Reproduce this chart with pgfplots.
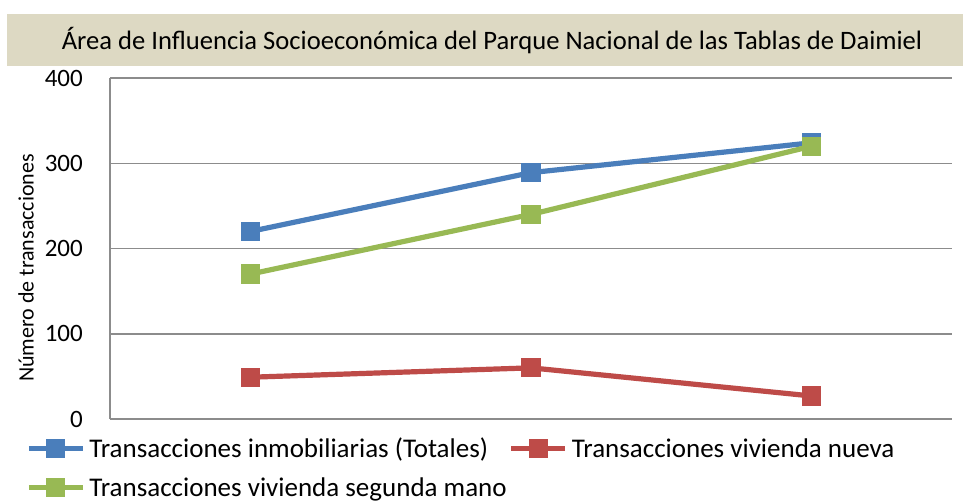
\documentclass[border=0pt]{standalone}
\usepackage{fontspec}
\setmainfont{Carlito}
\usepackage{pgfplots}
\pgfplotsset{compat=1.18}
\definecolor{cblue}{HTML}{4A7EBB}
\definecolor{cred}{HTML}{BE4B48}
\definecolor{cgreen}{HTML}{98B954}
\definecolor{titlebg}{HTML}{DDD9C3}
\definecolor{gridc}{HTML}{8C8C8C}
\begin{document}
\begin{tikzpicture}
\path[use as bounding box] (-110bp,-83bp) rectangle (853bp,419bp);
\fill[titlebg] (-103bp,353bp) rectangle (853bp,405bp);
\node[font=\fontsize{26.6bp}{30bp}\selectfont, inner sep=0pt] at (382bp,378bp) {Área de Influencia Socioeconómica del Parque Nacional de las Tablas de Daimiel};
\begin{axis}[at={(0,0)}, anchor=south west, scale only axis, width=842bp, height=341bp,
  xmin=-0.5, xmax=2.5, ymin=0, ymax=400, ytick={0,100,200,300,400}, xtick=\empty,
  axis lines*=left, axis line style={gridc, line width=1.5bp},
  ymajorgrids, grid style={gridc, line width=1.5bp},
  major tick length=0pt,
  /pgf/number format/assume math mode=true,
  yticklabel style={font=\fontsize{25bp}{30bp}\selectfont, inner sep=0pt, xshift=-27bp},
  ylabel={Número de transacciones},
  ylabel style={at={(axis description cs:-0.0998,0.443)}, anchor=center, font=\fontsize{22bp}{26bp}\selectfont, inner sep=0pt},
  legend columns=2,
  legend style={at={(axis description cs:-0.0998,-0.0293)}, anchor=north west, draw=none, fill=none, inner sep=0pt,
    font=\fontsize{27bp}{32bp}\selectfont,
    /tikz/every odd column/.append style={column sep=2bp},
    /tikz/every even column/.append style={column sep=0bp}},
  legend cell align=left,
  legend image code/.code={\path[draw=none, fill=none] (0bp,-19.5bp) (54bp,19.5bp);\draw[mark repeat=2, mark phase=2, #1] plot coordinates {(0bp,0bp) (27bp,0bp) (54bp,0bp)};},
  every axis plot/.append style={line width=5.2bp, mark=square*, mark size=7bp, mark options={solid, line width=0pt}},
]
\addplot[cblue, mark options={fill=cblue, draw=cblue}] coordinates {(0,220) (1,289) (2,324)};
\addlegendentry{Transacciones inmobiliarias (Totales)}
\addplot[cred, mark options={fill=cred, draw=cred}] coordinates {(0,49) (1,60) (2,27)};
\addlegendentry{Transacciones vivienda nueva}
\addplot[cgreen, mark options={fill=cgreen, draw=cgreen}] coordinates {(0,170) (1,240) (2,320)};
\addlegendentry{Transacciones vivienda segunda mano}
\end{axis}
\end{tikzpicture}
\end{document}
